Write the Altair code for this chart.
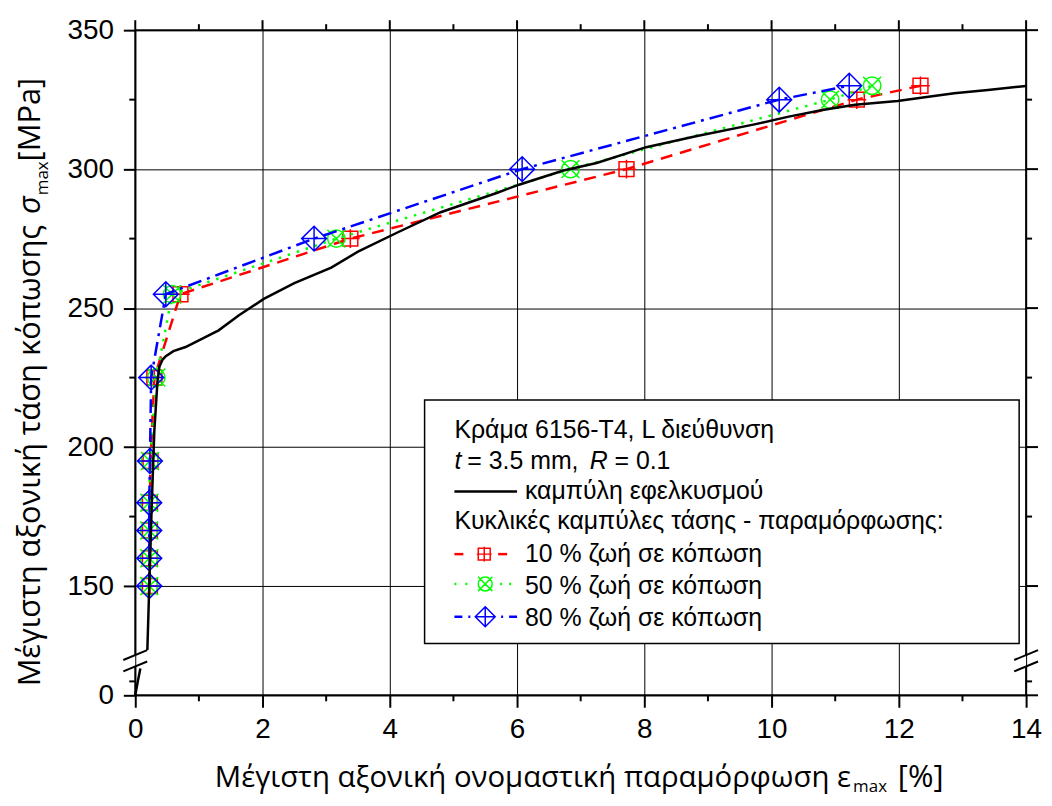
import altair as alt
import pandas as pd

# ---------------- data ----------------
tensile_strain_lower = [0.0, 0.04, 0.08]
tensile_stress_lower = [0, 25, 48]
tensile_strain_upper = [0.19, 0.22, 0.26, 0.30, 0.35, 0.38, 0.43, 0.48, 0.60, 0.79, 1.00, 1.31,
                        1.63, 2.02, 2.50, 3.08, 3.50, 4.12, 4.80, 5.69, 6.03, 6.73, 7.25, 8.03,
                        8.81, 9.75, 10.27, 10.80, 11.31, 11.98, 12.35, 12.87, 13.40, 14.00]
tensile_stress_upper = [127, 150, 180, 206, 224, 229, 231.5, 232.7, 234.5, 236, 238.4, 242,
                        247.4, 253.3, 259, 264.6, 270.3, 277.2, 284.5, 291.5, 294.4, 299.5, 302.2, 307.9,
                        311.8, 316.2, 318.9, 321.3, 323.2, 324.5, 325.7, 327.3, 328.5, 329.9]

stress_levels = [150, 160, 170, 180, 195, 225, 255, 275, 300, 325, 330]
strain_10 = [0.23, 0.23, 0.23, 0.23, 0.24, 0.30, 0.71, 3.38, 7.72, 11.34, 12.34]
strain_50 = [0.22, 0.22, 0.22, 0.22, 0.23, 0.33, 0.58, 3.16, 6.84, 10.92, 11.58]
strain_80 = [0.22, 0.22, 0.22, 0.22, 0.23, 0.25, 0.48, 2.81, 6.08, 10.12, 11.22]

x_major = [0, 2, 4, 6, 8, 10, 12, 14]
x_minor = [1, 3, 5, 7, 9, 11, 13]
y_major = [0, 150, 200, 250, 300, 350]
y_minor = [25, 175, 225, 275, 325]

legend_title_1 = "Κράμα 6156-T4, L διεύθυνση"
legend_tensile = "καμπύλη εφελκυσμού"
legend_cyclic = "Κυκλικές καμπύλες τάσης - παραμόρφωσης:"
legend_10 = "10 % ζωή σε κόπωση"
legend_50 = "50 % ζωή σε κόπωση"
legend_80 = "80 % ζωή σε κόπωση"
x_title_main = "Μέγιστη αξονική ονομαστική παραμόρφωση ε"
y_title_main = "Μέγιστη αξονική τάση κόπωσης"

# ---------------- layout ----------------
W, H = 896, 669
FONT = "Liberation Sans"
TFONT = "Open Sans"
xs = alt.Scale(domain=[0, 14], nice=False, zero=False)
ys = alt.Scale(domain=[0, 50, 125, 350], range=[669, 641, 629, 0], nice=False, zero=False)

x_axis = alt.Axis(values=x_major, grid=True, gridColor="black", gridWidth=1, gridOpacity=1,
                  domain=False, tickSize=12, tickWidth=2, tickColor="black",
                  labelFont=FONT, labelFontSize=28, labelColor="black", labelPadding=8,
                  labelFlush=False, labelAngle=0, title=None)
y_axis = alt.Axis(values=y_major, grid=True, gridColor="black", gridWidth=1, gridOpacity=1,
                  domain=False, tickSize=12, tickWidth=2, tickColor="black",
                  labelFont=FONT, labelFontSize=28, labelColor="black", labelPadding=10,
                  labelFlush=False, title=None)


def XE(field):
    return alt.X(field, scale=xs, axis=x_axis)


def YE(field):
    return alt.Y(field, scale=ys, axis=y_axis)


SQ_PLUS = "M-0.6,-0.6H0.6V0.6H-0.6Z M0,-0.75V0.75 M-0.75,0H0.75"
CIRC_X = ("M-0.7,0A0.7,0.7,0,1,1,0.7,0A0.7,0.7,0,1,1,-0.7,0Z "
          "M-0.72,-0.72L0.72,0.72 M-0.72,0.72L0.72,-0.72")
DIA_PLUS = "M0,-1L1,0L0,1L-1,0Z M0,-1V1 M-1,0H1"

RED, GREEN, BLUE = "#FF0000", "#00FF00", "#0000FF"
one = pd.DataFrame({"k": [0]})


def seg(x1, y1, x2, y2, color="black", width=2.0, dash=None):
    kw = dict(color=color, strokeWidth=width)
    if dash:
        kw["strokeDash"] = dash
    return alt.Chart(one).mark_rule(**kw).encode(
        x=alt.value(x1), x2=alt.value(x2), y=alt.value(y1), y2=alt.value(y2))


def txt(s, x, y, size, align="left", baseline="alphabetic", angle=0, style="normal", font=FONT):
    return alt.Chart(one).mark_text(text=s, fontSize=size, align=align, baseline=baseline,
                                    angle=angle, fontStyle=style, font=font, color="black").encode(
        x=alt.value(x), y=alt.value(y))


def marker(x, y, shape, color, size):
    return alt.Chart(one).mark_point(shape=shape, size=size, filled=False, color=color,
                                     strokeWidth=1.5, opacity=1).encode(x=alt.value(x), y=alt.value(y))


def series(strains, color, dash, shape):
    df = pd.DataFrame({"strain": strains, "stress": stress_levels, "i": list(range(len(strains)))})
    line = alt.Chart(df).mark_line(color=color, strokeWidth=2.5, strokeDash=dash).encode(
        x=XE("strain:Q"), y=YE("stress:Q"), order="i:Q")
    pts = alt.Chart(df).mark_point(shape=shape, size=625, filled=False, color=color,
                                   strokeWidth=1.5, opacity=1).encode(x=XE("strain:Q"), y=YE("stress:Q"))
    return [line, pts]


layers = []
layers += series(strain_10, RED, [12, 8], SQ_PLUS)
layers += series(strain_50, GREEN, [2.5, 7], CIRC_X)
layers += series(strain_80, BLUE, [14, 6, 3, 6], DIA_PLUS)

tens = pd.DataFrame({
    "strain": tensile_strain_lower + tensile_strain_upper,
    "stress": tensile_stress_lower + tensile_stress_upper,
    "seg": ["a"] * len(tensile_strain_lower) + ["b"] * len(tensile_strain_upper),
    "i": list(range(len(tensile_strain_lower) + len(tensile_strain_upper))),
})
layers.append(alt.Chart(tens).mark_line(color="black", strokeWidth=2.5).encode(
    x=XE("strain:Q"), y=YE("stress:Q"), detail="seg:N", order="i:Q"))

# frame with axis breaks
for xx in (0, W):
    layers.append(seg(xx, 0, xx, 628.5))
    layers.append(seg(xx, 640, xx, H))
    layers.append(seg(xx - 12, 633.5, xx + 12, 623.5))
    layers.append(seg(xx - 12, 645, xx + 12, 635))
layers.append(seg(0, 0, W, 0))
layers.append(seg(0, H, W, H))


def yticks(vals, x1, x2):
    return alt.Chart(pd.DataFrame({"v": vals})).mark_rule(color="black", strokeWidth=2).encode(
        y=YE("v:Q"), x=alt.value(x1), x2=alt.value(x2))


def xticks(vals, y1, y2):
    return alt.Chart(pd.DataFrame({"v": vals})).mark_rule(color="black", strokeWidth=2).encode(
        x=XE("v:Q"), y=alt.value(y1), y2=alt.value(y2))


layers.append(yticks(y_minor, -6, 0))
layers.append(yticks(y_major, W, W + 12))
layers.append(yticks(y_minor, W, W + 6))
layers.append(xticks(x_minor, H, H + 6))
layers.append(xticks(x_major, -10, 0))
layers.append(xticks(x_minor, -6, 0))

# legend box
layers.append(alt.Chart(one).mark_rect(fill="white", stroke="black", strokeWidth=1.5).encode(
    x=alt.value(291), x2=alt.value(889), y=alt.value(372), y2=alt.value(617)))
LS = 25
layers.append(txt(legend_title_1, 321, 410, LS))
layers.append(txt("t", 321, 441, LS, style="italic"))
layers.append(txt("= 3.5 mm,", 334, 441, LS))
layers.append(txt("R", 457, 441, LS, style="italic"))
layers.append(txt("= 0.1", 482, 441, LS))
layers.append(seg(321, 464, 384, 464, width=2.5))
layers.append(txt(legend_tensile, 392, 472, LS))
layers.append(txt(legend_cyclic, 321, 502, LS))
# 10 %
layers.append(seg(321, 527, 330, 527, color=RED, width=2.5))
layers.append(seg(365, 527, 374, 527, color=RED, width=2.5))
layers.append(marker(351, 527, SQ_PLUS, RED, 400))
layers.append(txt(legend_10, 392, 535, LS))
# 50 %
for dx in (321, 332, 367, 376):
    layers.append(seg(dx, 557, dx + 2, 557, color=GREEN, width=2.5))
layers.append(marker(352, 557, CIRC_X, GREEN, 400))
layers.append(txt(legend_50, 392, 567, LS))
# 80 %
layers.append(seg(321, 590, 329, 590, color=BLUE, width=2.5))
layers.append(seg(335, 590, 337, 590, color=BLUE, width=2.5))
layers.append(seg(368, 590, 370, 590, color=BLUE, width=2.5))
layers.append(seg(376, 590, 384, 590, color=BLUE, width=2.5))
layers.append(marker(352, 590, DIA_PLUS, BLUE, 400))
layers.append(txt(legend_80, 392, 599, LS))

# axis titles
TS = 29.5
layers.append(txt(x_title_main, 720, 761, TS, align="right", font=TFONT))
layers.append(txt("max", 722, 766, 17, font=TFONT))
layers.append(txt("[%]", 767, 761, 31, font=TFONT))

YS = 31
layers.append(txt(y_title_main, -96, 660, YS, align="left", angle=270, font=TFONT))
layers.append(txt("σ", -96, 185, YS, angle=270, style="italic", font=TFONT))
layers.append(txt("max", -88, 166, 17, angle=270, font=TFONT))
layers.append(txt("[MPa]", -96, 132, YS, angle=270, font=TFONT))

chart = alt.layer(*layers).properties(
    width=W, height=H,
    autosize=alt.AutoSizeParams(type="none"),
    padding={"left": 128, "top": 20, "right": 18, "bottom": 101},
).configure_view(stroke=None)

chart.save("out.html", embed_options={"renderer": "svg", "actions": False})
